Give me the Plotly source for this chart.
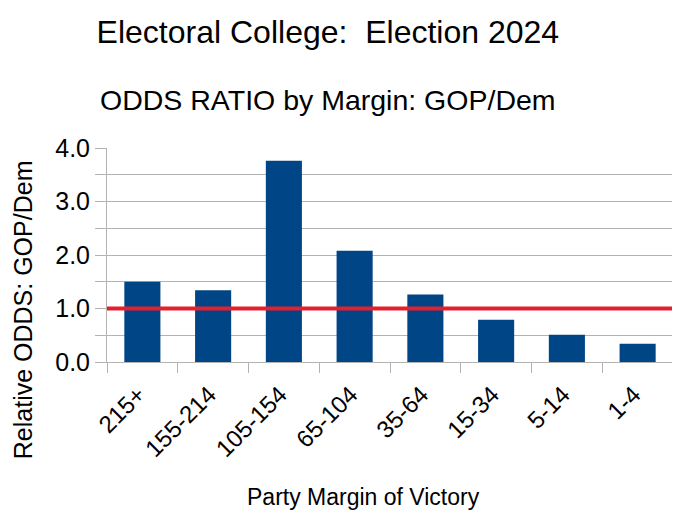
import plotly.graph_objects as go

# Electoral college odds ratio (GOP/Dem) by party margin of victory
margins = ["215+", "155-214", "105-154", "65-104", "35-64", "15-34", "5-14", "1-4"]
odds_ratio = [1.50, 1.34, 3.76, 2.08, 1.26, 0.79, 0.51, 0.34]
parity_level = 1.0

FONT = "Liberation Sans, Arial, sans-serif"

fig = go.Figure()

fig.add_trace(
    go.Bar(
        x=margins,
        y=odds_ratio,
        marker=dict(color="#004586", line=dict(width=0)),
        showlegend=False,
    )
)

# reference line at odds ratio 1.0
fig.add_hline(y=parity_level, line=dict(color="#e4202f", width=4))

# page body has an 8px margin, so the figure is a bit smaller than the window
fig.update_layout(
    width=672,
    height=523,
    paper_bgcolor="white",
    plot_bgcolor="white",
    font=dict(family=FONT, color="black"),
    margin=dict(l=99, r=7, t=140, b=169),
    bargap=0.49,
    title=dict(
        text="Electoral College:  Election 2024",
        font=dict(size=32),
        x=0.476, xanchor="center",
        y=0.954, yanchor="middle",
    ),
)

fig.add_annotation(
    text="ODDS RATIO by Margin: GOP/Dem",
    xref="paper", yref="paper",
    x=0.39, y=1.224,
    xanchor="center", yanchor="middle",
    showarrow=False,
    font=dict(size=28.5),
)

fig.add_annotation(
    text="Relative ODDS: GOP/Dem",
    xref="paper", yref="paper",
    x=-0.148, y=0.243,
    xanchor="center", yanchor="middle",
    textangle=-90,
    showarrow=False,
    font=dict(size=25),
)

fig.add_annotation(
    text="Party Margin of Victory",
    xref="paper", yref="paper",
    x=0.454, y=-0.631,
    xanchor="center", yanchor="middle",
    showarrow=False,
    font=dict(size=23),
)

fig.update_xaxes(
    tickangle=-45,
    tickfont=dict(size=24),
    ticks="outside",
    tickson="boundaries",
    ticklen=10,
    tickcolor="#b3b3b3",
    ticklabelstandoff=8,
    ticklabelshift=-4,
    showline=True,
    linecolor="#b3b3b3",
    showgrid=False,
)

fig.update_yaxes(
    range=[0, 4],
    dtick=1,
    tickformat=".1f",
    tickfont=dict(size=25),
    ticks="outside",
    ticklen=11,
    tickcolor="#b3b3b3",
    showline=True,
    linecolor="#b3b3b3",
    showgrid=True,
    gridcolor="#b3b3b3",
    zeroline=False,
    minor=dict(
        dtick=0.5,
        showgrid=True,
        gridcolor="#b3b3b3",
        ticks="outside",
        ticklen=11,
        tickcolor="#b3b3b3",
    ),
)

# right border of the plot area
fig.add_shape(
    type="line", xref="paper", yref="paper",
    x0=1, x1=1, y0=0, y1=1,
    line=dict(color="#b3b3b3", width=1),
)

fig.write_html("out.html")
